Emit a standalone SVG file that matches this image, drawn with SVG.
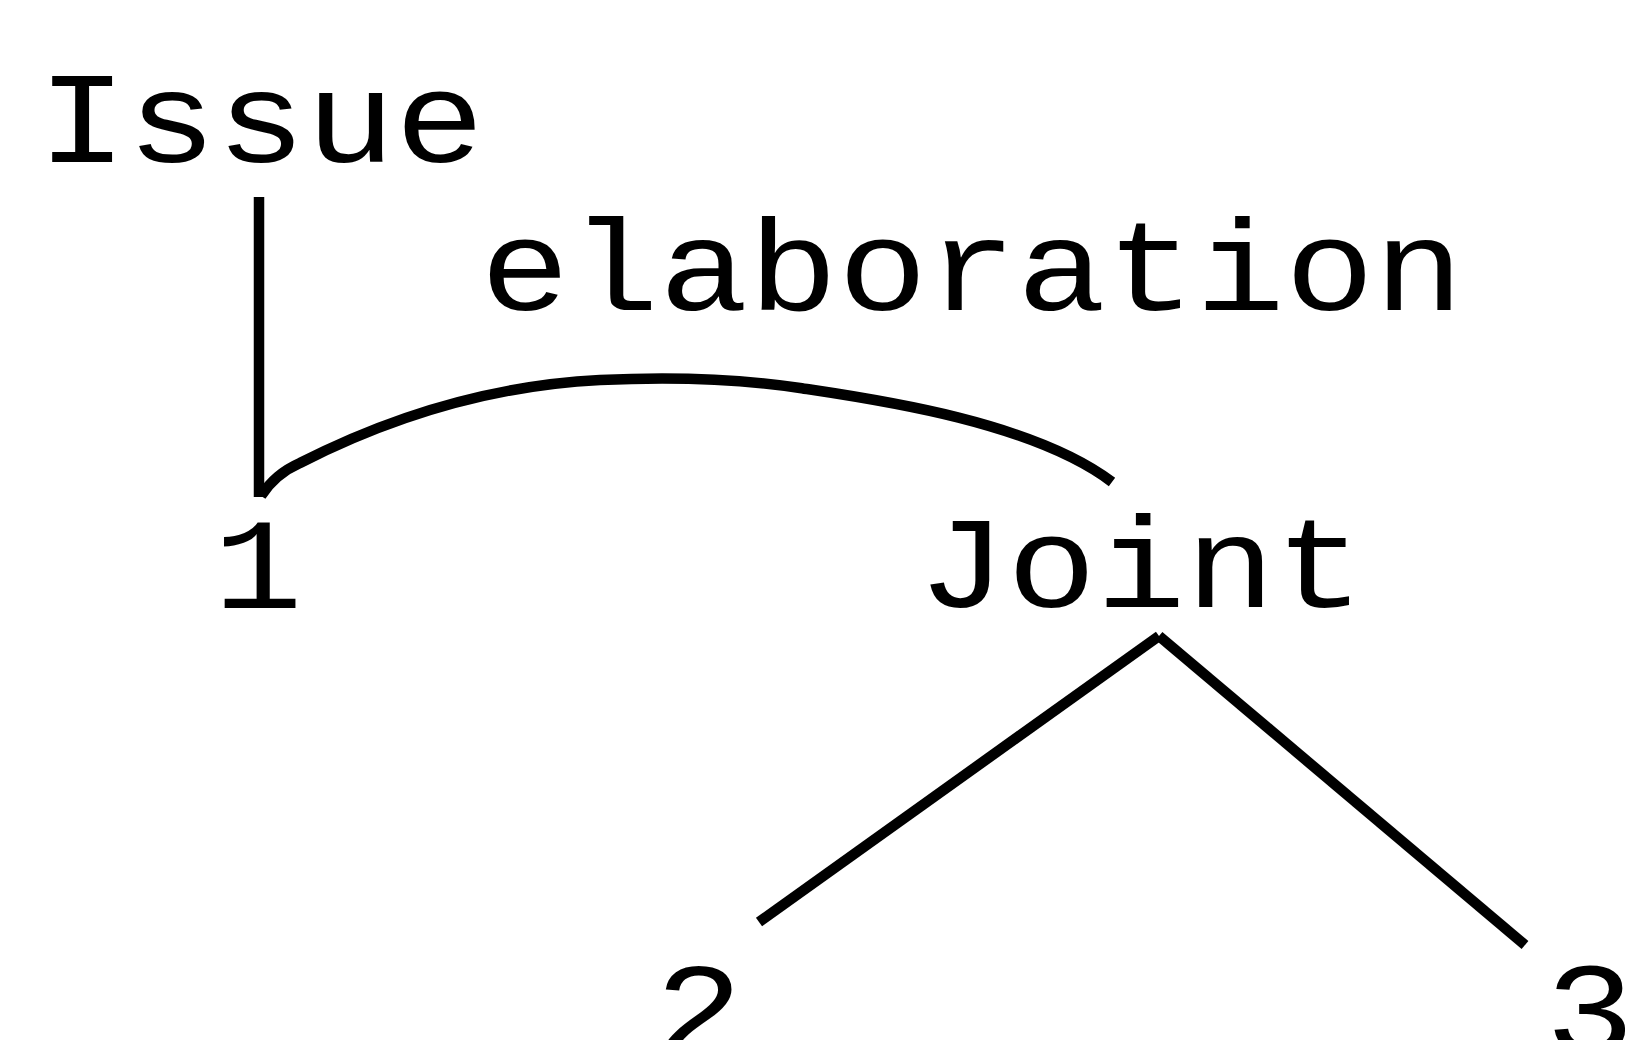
<svg xmlns="http://www.w3.org/2000/svg" width="1625" height="1040" viewBox="0 0 1625 1040">
<style>
  .lbl { font-family: "Liberation Mono", "Courier New", monospace; font-size: 149px; fill: #000; text-anchor: middle; }
  .edge { fill: none; stroke: #000; stroke-width: 10.5; stroke-linecap: butt; stroke-linejoin: round; }
</style>
<rect x="0" y="0" width="1625" height="1040" fill="#fff"/>
<g id="connectors">
  <line class="edge" x1="259" y1="197" x2="259" y2="497"/>
  <path class="edge" d="M261,496 Q275,474 300,463 C400,412 500,385 600,380 C680,376 740,379 800,388 C866,398 1030,420 1112,482"/>
  <line class="edge" x1="1159" y1="636" x2="759" y2="922"/>
  <line class="edge" x1="1159" y1="636" x2="1525" y2="945"/>
</g>
<g id="node-issue"><text class="lbl" transform="translate(261,162) scale(1,0.867)">Issue</text></g>
<g id="label-elaboration"><text class="lbl" transform="translate(972,310) scale(1,0.867)">elaboration</text></g>
<g id="node-1"><text class="lbl" transform="translate(258,608) scale(1,0.867)">1</text></g>
<g id="node-joint"><text class="lbl" transform="translate(1141,607) scale(1,0.867)">Joint</text></g>
<g id="node-2"><text class="lbl" transform="translate(699,1053) scale(1,0.867)">2</text></g>
<g id="node-3"><text class="lbl" transform="translate(1590,1053) scale(1,0.867)">3</text></g>
</svg>
